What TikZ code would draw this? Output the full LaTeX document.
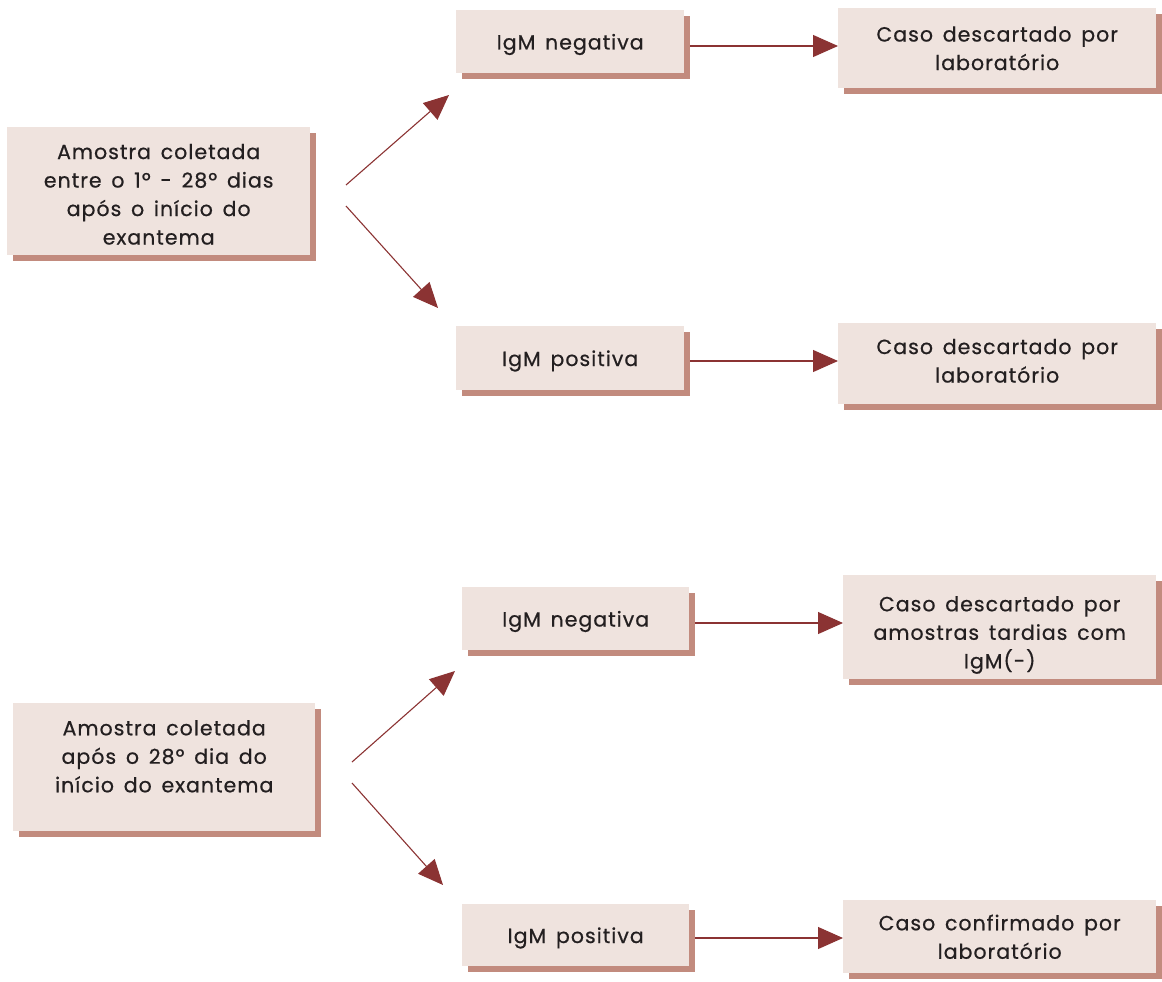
\documentclass[tikz,border=0pt]{standalone}
\usepackage{fontspec}
\setmainfont{Poppins}
\newfontfamily\boxfont{Poppins}[LetterSpace=5,WordSpace=1.5]
\usetikzlibrary{arrows.meta,shadows}
\definecolor{boxfill}{HTML}{EFE3DE}
\definecolor{boxshadow}{HTML}{C28B7E}
\definecolor{arrcol}{HTML}{8B3333}
\definecolor{txtcol}{HTML}{231F20}
\begin{document}
\begin{tikzpicture}[x=1pt,y=-1pt,
  box/.style={anchor=north west, fill=boxfill, inner sep=0pt,
    general shadow={fill=boxshadow, shadow xshift=6pt, shadow yshift=-6pt}},
  txt/.style={align=center, inner sep=0pt, text=txtcol, text depth=0pt,
    font=\boxfont\fontsize{20.5}{28.5}\selectfont\addfontfeatures{FakeBold=0.6}},
  arr/.style={draw=arrcol, line width=1.1pt, -{Triangle[length=25pt,width=22pt]}}]
\useasboundingbox (0,0) rectangle (1162,982);
% top group
\node[box, minimum width=303pt, minimum height=128pt,
  label={[txt,yshift=-3pt]center:Amostra coletada\\entre o 1º - 28º dias\\após o início do\\exantema}] (A1) at (7,127) {};
\node[box, minimum width=228pt, minimum height=63pt,
  label={[txt]center:IgM negativa}] (B1) at (456,10) {};
\node[box, minimum width=318pt, minimum height=80pt,
  label={[txt]center:Caso descartado por\\laboratório}] (C1) at (838,8) {};
\node[box, minimum width=228pt, minimum height=64pt,
  label={[txt]center:IgM positiva}] (B2) at (456,326) {};
\node[box, minimum width=318pt, minimum height=81pt,
  label={[txt,yshift=3pt]center:Caso descartado por\\laboratório}] (C2) at (838,323) {};
% bottom group
\node[box, minimum width=302pt, minimum height=128pt,
  label={[txt,yshift=11pt]center:Amostra coletada\\após o 28º dia do\\início do exantema}] (A2) at (13,703) {};
\node[box, minimum width=227pt, minimum height=63pt,
  label={[txt]center:IgM negativa}] (B3) at (462,587) {};
\node[box, minimum width=313pt, minimum height=104pt,
  label={[txt,yshift=-5pt]center:Caso descartado por\\amostras tardias com\\IgM(-)}] (C3) at (843,575) {};
\node[box, minimum width=227pt, minimum height=62pt,
  label={[txt]center:IgM positiva}] (B4) at (462,904) {};
\node[box, minimum width=313pt, minimum height=73pt,
  label={[txt]center:Caso confirmado por\\laboratório}] (C4) at (843,900) {};
% connector endpoints
\coordinate (s1u) at (346,185); \coordinate (t1u) at (449,95);
\coordinate (s1d) at (346,206); \coordinate (t1d) at (438,308);
\coordinate (s2u) at (352,762); \coordinate (t2u) at (455,671);
\coordinate (s2d) at (352,783); \coordinate (t2d) at (443,885);
\draw[arr] (s1u) -- (t1u);
\draw[arr] (s1d) -- (t1d);
\draw[arr] (s2u) -- (t2u);
\draw[arr] (s2d) -- (t2d);
\draw[arr] (B1.east |- 0,46) ++(6,0) -- (C1.west |- 0,46);
\draw[arr] (B2.east |- 0,361) ++(6,0) -- (C2.west |- 0,361);
\draw[arr] (B3.east |- 0,623) ++(6,0) -- (C3.west |- 0,623);
\draw[arr] (B4.east |- 0,938) ++(6,0) -- (C4.west |- 0,938);
\end{tikzpicture}
\end{document}
